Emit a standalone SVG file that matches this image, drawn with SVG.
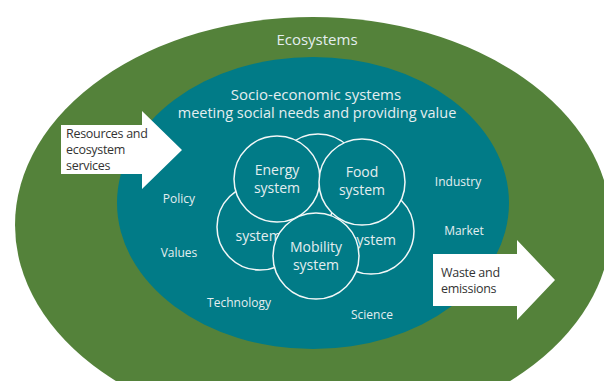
<svg xmlns="http://www.w3.org/2000/svg" width="604" height="381" viewBox="0 0 604 381">
<style>
.lt{font-family:"Open Sans","Noto Sans","Liberation Sans",sans-serif;fill:#e4eef0;text-anchor:middle}
.sys{font-size:14px}
.lbl{font-size:12px}
.circ{fill:#017b87;stroke:#f2f7f7;stroke-width:1.5}
.arr{fill:#ffffff}
.dt{font-family:"Open Sans","Noto Sans","Liberation Sans",sans-serif;fill:#333333;font-size:12.5px;letter-spacing:-0.3px}
</style>
<rect width="604" height="381" fill="#ffffff"/>
<g id="ecosystems">
<ellipse cx="313" cy="225" rx="298" ry="208" fill="#54823a"/>
<text class="lt" x="317" y="45" font-size="15">Ecosystems</text>
</g>
<g id="socio-economic">
<ellipse cx="313" cy="203" rx="196" ry="146" fill="#017b87"/>
<text class="lt" x="316" y="100" font-size="15">Socio-economic systems</text>
<text class="lt" x="317" y="118" font-size="14.5">meeting social needs and providing value</text>
</g>
<g id="factors">
<text class="lt lbl" x="179" y="203">Policy</text>
<text class="lt lbl" x="179" y="257">Values</text>
<text class="lt lbl" x="239" y="307">Technology</text>
<text class="lt lbl" x="372" y="319">Science</text>
<text class="lt lbl" x="458" y="186">Industry</text>
<text class="lt lbl" x="464" y="235">Market</text>
</g>
<g id="top-system"><circle class="circ" cx="318" cy="177" r="43"/></g>
<g id="left-system"><circle class="circ" cx="260" cy="227" r="43"/><text class="lt sys" x="235.5" y="241" style="text-anchor:start">system</text></g>
<g id="right-system"><circle class="circ" cx="371" cy="231" r="43"/><text class="lt sys" x="396" y="245" style="text-anchor:end">system</text></g>
<g id="energy-system"><circle class="circ" cx="277" cy="179" r="43"/><text class="lt sys" x="277" y="175">Energy</text><text class="lt sys" x="277" y="193">system</text></g>
<g id="food-system"><circle class="circ" cx="362" cy="182" r="43"/><text class="lt sys" x="362" y="177">Food</text><text class="lt sys" x="362" y="195">system</text></g>
<g id="mobility-system"><circle class="circ" cx="316" cy="256" r="43"/><text class="lt sys" x="316" y="252">Mobility</text><text class="lt sys" x="316" y="270">system</text></g>
<g id="connectors">
<g id="resources-arrow"><polygon class="arr" points="61,125 142,125 142,111 182,150 142,189 142,174 61,174"/>
<text class="dt" x="66" y="138">Resources and</text><text class="dt" x="66" y="154">ecosystem</text><text class="dt" x="66" y="170">services</text></g>
<g id="waste-arrow"><polygon class="arr" points="433,254 517,254 517,240 555,280 517,320 517,306 433,306"/>
<text class="dt" x="441" y="277">Waste and</text><text class="dt" x="441" y="293">emissions</text></g>
</g>
</svg>
